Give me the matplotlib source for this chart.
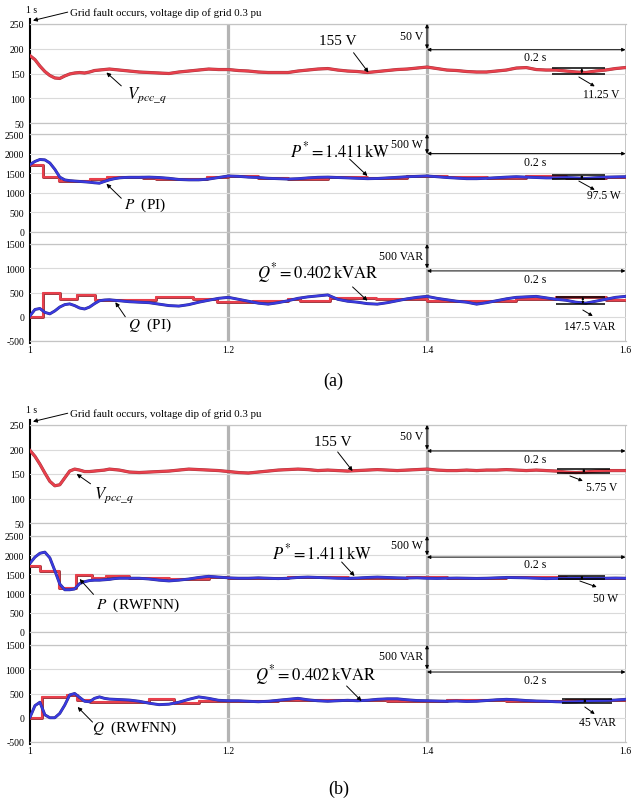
import numpy as np
import matplotlib
matplotlib.use('Agg')
import matplotlib.pyplot as plt
import matplotlib.patheffects as pe

plt.rcParams['font.family'] = ['Liberation Serif', 'DejaVu Serif']
plt.rcParams['mathtext.fontset'] = 'stix'
plt.rcParams['axes.unicode_minus'] = False

# ---------------- data ----------------
t_fine = np.round(1.0 + 0.005 * np.arange(21), 3)       # 1.000 ... 1.100
t_coarse = np.round(1.10 + 0.01 * np.arange(1, 51), 2)  # 1.11 ... 1.60
t = np.concatenate([t_fine, t_coarse])

# (a) PI controller
v_a = [186, 178, 165, 154, 146, 141, 140, 145, 149, 151, 152, 151, 153, 156, 157, 158, 159, 158, 157, 156, 155,
       153, 152, 151, 150, 153, 155, 157, 159, 158, 158, 156, 155, 153, 152, 152, 152, 155, 157, 159, 160,
       157, 155, 154, 152, 154, 156, 158, 159, 161, 163, 160, 157, 156, 154, 153, 153, 155, 157, 161, 162,
       158, 157, 157, 155, 153, 152, 155, 157, 160, 162]
p_a = [1720, 1800, 1850, 1840, 1760, 1600, 1400, 1330, 1310, 1300, 1290, 1280, 1270, 1255, 1245, 1290, 1330, 1360, 1380, 1390, 1395,
       1395, 1400, 1390, 1370, 1340, 1330, 1330, 1350, 1390, 1430, 1420, 1400, 1390, 1370, 1360, 1350, 1360, 1380, 1395, 1400,
       1390, 1380, 1370, 1360, 1365, 1380, 1395, 1410, 1420, 1430, 1410, 1390, 1375, 1360, 1360, 1370, 1385, 1400, 1410, 1400,
       1390, 1380, 1380, 1390, 1380, 1370, 1385, 1400, 1405, 1410]
p_ref_a_t = [1.000, 1.013, 1.029, 1.060, 1.078, 1.114, 1.127, 1.178, 1.200, 1.230, 1.260, 1.300, 1.340, 1.380, 1.420, 1.460, 1.500, 1.540, 1.580, 1.600]
p_ref_a = [1700, 1405, 1310, 1350, 1410, 1390, 1340, 1400, 1430, 1390, 1355, 1400, 1370, 1420, 1400, 1370, 1420, 1380, 1400, 1400]
q_a = [20, 150, 170, 90, 60, 120, 200, 250, 265, 230, 180, 160, 200, 270, 330, 345, 350, 340, 330, 320, 310,
       300, 290, 260, 230, 220, 250, 300, 340, 380, 400, 360, 320, 280, 260, 290, 330, 380, 410, 430, 450,
       360, 320, 300, 270, 260, 290, 330, 370, 400, 420, 380, 350, 320, 300, 260, 290, 330, 370, 400, 410,
       420, 390, 360, 340, 300, 280, 320, 360, 400, 420]
q_ref_a_t = [1.000, 1.013, 1.030, 1.047, 1.065, 1.127, 1.164, 1.188, 1.225, 1.260, 1.272, 1.302, 1.349, 1.400, 1.440, 1.490, 1.530, 1.580, 1.600]
q_ref_a = [0, 485, 370, 450, 355, 415, 365, 300, 330, 365, 330, 385, 365, 315, 335, 365, 400, 350, 350]

# (b) RWFNN controller
v_b = [198, 186, 170, 152, 135, 126, 128, 142, 156, 160, 158, 155, 155, 156, 157, 158, 160, 159, 158, 156, 154,
       153, 154, 155, 156, 158, 160, 159, 158, 157, 155, 153, 152, 154, 156, 158, 159, 160, 159, 157, 158,
       157, 156, 157, 158, 159, 158, 157, 158, 159, 160, 158, 157, 157, 158, 157, 158, 158, 159, 158, 157,
       158, 157, 156, 154, 153, 154, 156, 157, 157, 157]
p_b = [1790, 1950, 2050, 2080, 1930, 1600, 1250, 1100, 1100, 1120, 1260, 1310, 1340, 1350, 1350, 1360, 1370, 1390, 1400, 1400, 1400,
       1400, 1380, 1350, 1330, 1350, 1380, 1420, 1450, 1430, 1410, 1400, 1400, 1410, 1400, 1390, 1400, 1420, 1430, 1420, 1410,
       1400, 1395, 1405, 1420, 1430, 1420, 1410, 1405, 1410, 1400, 1395, 1400, 1405, 1400, 1395, 1400, 1410, 1420, 1415, 1410,
       1400, 1390, 1395, 1400, 1405, 1400, 1395, 1400, 1405, 1400]
p_ref_b_t = [1.000, 1.010, 1.029, 1.046, 1.062, 1.077, 1.100, 1.140, 1.180, 1.200, 1.260, 1.320, 1.380, 1.420, 1.480, 1.540, 1.600]
p_ref_b = [1725, 1580, 1140, 1480, 1405, 1450, 1400, 1390, 1440, 1410, 1420, 1400, 1420, 1400, 1420, 1400, 1400]
q_b = [10, 250, 320, 60, 0, 0, 90, 260, 470, 500, 420, 340, 330, 400, 430, 400, 385, 380, 375, 370, 365,
       340, 300, 270, 280, 320, 380, 430, 400, 360, 350, 350, 340, 330, 340, 360, 380, 400, 370, 350, 340,
       350, 360, 350, 360, 380, 390, 390, 370, 355, 350, 345, 340, 345, 335, 340, 355, 370, 380, 370, 355,
       345, 340, 330, 325, 330, 345, 350, 355, 365, 380]
q_ref_b_t = [1.000, 1.012, 1.037, 1.047, 1.060, 1.120, 1.145, 1.170, 1.250, 1.300, 1.360, 1.420, 1.480, 1.540, 1.600]
q_ref_b = [0, 435, 470, 360, 335, 390, 305, 350, 360, 370, 355, 370, 350, 365, 365]

# ripple bands (upper, lower) marked at the right of each panel
band_a = [(161.25, 150.0), (1450, 1352.5), (410, 262.5)]
band_b = [(160.5, 153.0), (1450, 1372), (382, 312)]
band_labels_a = ['11.25 V', '97.5 W', '147.5 VAR']
band_labels_b = ['5.75 V', '50 W', '45 VAR']

v_ticks = [50, 100, 150, 200, 250]
p_ticks = [0, 500, 1000, 1500, 2000, 2500]
q_ticks = [-500, 0, 500, 1000, 1500]
x_ticks = [1.0, 1.2, 1.4, 1.6]
x_ticklabels = ['1', '1.2', '1.4', '1.6']

# ---------------- figure ----------------
W, H = 631, 804
fig = plt.figure(figsize=(W / 100, H / 100), dpi=100)
X0, X1 = 30, 625.5

RED, RED_D = '#e8404c', '#a0343c'
BLUE, BLUE_D = '#3a3ae0', '#2a2a8a'
GRID = '#dadada'
VGRID = '#b4b4b4'


def px_axes(top, bottom):
    return fig.add_axes([X0 / W, 1 - bottom / H, (X1 - X0) / W, (bottom - top) / H])


def curve(ax, x, y, color, dark, steps=False, lw=1.5):
    ax.plot(x, y, color=color, lw=lw, drawstyle='steps-post' if steps else 'default',
            path_effects=[pe.Stroke(linewidth=lw + 0.6, foreground=dark), pe.Normal()], zorder=3)


def arrow(ax, tail, head, style='-|>', lw=0.7, ms=6):
    ax.annotate('', xy=head, xytext=tail,
                arrowprops=dict(arrowstyle=style, color='black', lw=lw, mutation_scale=ms,
                                shrinkA=0, shrinkB=0),
                annotation_clip=False)


def setup_panel(ax, ylim, ticks, bottom_labels=False):
    ax.set_facecolor('none')
    ax.set_xlim(1.0, 1.6)
    ax.set_ylim(*ylim)
    ax.set_yticks(ticks)
    ax.set_yticklabels([str(v) for v in ticks])
    ax.tick_params(axis='y', length=0, pad=4, labelsize=7)
    for s in ['left', 'right']:
        ax.spines[s].set_visible(False)
    for s in ['top', 'bottom']:
        ax.spines[s].set_color('#c4c4c4')
        ax.spines[s].set_linewidth(0.9)
    ax.yaxis.grid(True, color=GRID, lw=0.8)
    ax.xaxis.grid(False)
    ax.set_xticks(x_ticks)
    if bottom_labels:
        ax.set_xticklabels(x_ticklabels)
        ax.tick_params(axis='x', length=0, pad=3, labelsize=7)
    else:
        ax.set_xticklabels([])
        ax.tick_params(axis='x', length=0)


def background(top, bottom):
    bg = px_axes(top, bottom)
    bg.set_xlim(1.0, 1.6)
    bg.set_ylim(0, 1)
    bg.axis('off')
    for xv in [1.2, 1.4]:
        bg.axvline(xv, color=VGRID, lw=2.3, zorder=0)
    bg.axvline(1.6, color=VGRID, lw=1.8, zorder=0)
    h = bottom - top
    bg.axvline(1.0, ymin=-2 / h, ymax=1 + 5 / h, color='black', lw=1.5, clip_on=False, zorder=5)
    return bg


def group(tops, v, p, p_ref_t, p_ref, q, q_ref_t, q_ref, bands, band_labels, tag, cfg):
    background(tops[0][0], tops[2][1])
    ax1 = px_axes(*tops[0]); ax2 = px_axes(*tops[1]); ax3 = px_axes(*tops[2])
    setup_panel(ax1, (50, 250), v_ticks)
    setup_panel(ax2, (0, 2500), p_ticks)
    setup_panel(ax3, (-500, 1500), q_ticks, bottom_labels=True)

    curve(ax1, t, v, RED, RED_D, lw=1.7)
    curve(ax2, p_ref_t, p_ref, RED, RED_D, steps=True)
    curve(ax2, t, p, BLUE, BLUE_D)
    curve(ax3, q_ref_t, q_ref, RED, RED_D, steps=True)
    curve(ax3, t, q, BLUE, BLUE_D)

    # fault note
    ax1.text(1.002, cfg['one_s_y'], '1 s', fontsize=7, ha='center', va='center')
    ax1.text(1.040, cfg['fault_y'], 'Grid fault occurs, voltage dip of grid 0.3 pu', fontsize=7.8,
             ha='left', va='center', clip_on=False)
    arrow(ax1, (1.038, cfg['fault_y']), (1.003, 257))

    # scale arrows and 0.2 s
    for ax, (ytop, ybot, yh, ytxt, lbl, ylbl) in zip([ax1, ax2, ax3], cfg['scale']):
        arrow(ax, (1.4, ybot), (1.4, ytop), style='<|-|>', ms=5)
        arrow(ax, (1.4, yh), (1.6, yh), style='<|-|>', ms=5)
        ax.text(1.509, ytxt, '0.2 s', fontsize=8.5, ha='center', va='center')
        ax.text(1.396, ylbl, lbl, fontsize=8.5, ha='right', va='center')

    # ripple bands
    for ax, (hi, lo), lbl, bc in zip([ax1, ax2, ax3], bands, band_labels, cfg['band']):
        x0, x1, xm, tail, head, txt = bc
        ax.hlines([hi, lo], x0, x1, color='black', lw=1.1, zorder=4)
        arrow(ax, (xm, lo), (xm, hi), style='<|-|>', lw=0.6, ms=3)
        arrow(ax, tail, head, ms=5)
        ax.text(txt[0], txt[1], lbl, fontsize=8.3, ha='center', va='center')

    # value labels
    for ax, (txt, pos, tail, head, size) in zip([ax1, ax2, ax3], cfg['val']):
        ax.text(pos[0], pos[1], txt, fontsize=size, ha='center', va='center')
        arrow(ax, tail, head, ms=6)
    for ax, (txt, pos, tail, head, size) in zip([ax1, ax2, ax3], cfg['name']):
        ax.text(pos[0], pos[1], txt, fontsize=size, ha='center', va='center')
        arrow(ax, tail, head, ms=6)

    fig.text(cfg['tag'][0] / W, 1 - cfg['tag'][1] / H, tag, fontsize=13, ha='center', va='center')


cfg_a = dict(
    one_s_y=279, fault_y=274,
    scale=[(250, 200, 198, 183, '50 V', 226),
           (2500, 2000, 2000, 1790, '500 W', 2250),
           (1500, 1000, 945, 778, '500 VAR', 1255)],
    band=[(1.526, 1.579, 1.556, (1.553, 143), (1.569, 124), (1.576, 109)),
          (1.526, 1.579, 1.556, (1.553, 1300), (1.569, 1075), (1.578, 944)),
          (1.530, 1.579, 1.557, (1.557, 139), (1.567, 15), (1.564, -191))],
    val=[('155 V', (1.310, 216), (1.326, 192), (1.341, 152), 11),
         (r'$P^{*}=1.411\,\mathrm{kW}$', (1.312, 2075), (1.322, 1860), (1.340, 1430), 12),
         (r'$Q^{*}=0.402\,\mathrm{kVAR}$', (1.290, 925), (1.325, 615), (1.340, 330), 12)],
    name=[(r'$V_{pcc\_q}$', (1.118, 108), (1.092, 125), (1.077, 152), 12),
          (r'$P$  (PI)', (1.116, 714), (1.092, 860), (1.077, 1230), 11),
          (r'$Q$  (PI)', (1.121, -149), (1.096, 0), (1.086, 300), 11)],
    tag=(333, 381),
)

cfg_b = dict(
    one_s_y=282, fault_y=274,
    scale=[(250, 200, 197, 181, '50 V', 228),
           (2500, 2000, 1950, 1771, '500 W', 2266),
           (1500, 1000, 943, 778, '500 VAR', 1273)],
    band=[(1.531, 1.584, 1.558, (1.544, 146), (1.557, 136), (1.576, 123)),
          (1.532, 1.579, 1.556, (1.554, 1328), (1.571, 1172), (1.580, 885)),
          (1.536, 1.586, 1.559, (1.559, 222), (1.569, 77), (1.572, -88))],
    val=[('155 V', (1.305, 217), (1.310, 195), (1.325, 156), 11),
         (r'$P^{*}=1.411\,\mathrm{kW}$', (1.294, 2083), (1.314, 1823), (1.327, 1458), 12),
         (r'$Q^{*}=0.402\,\mathrm{kVAR}$', (1.288, 902), (1.319, 655), (1.334, 345), 12)],
    name=[(r'$V_{pcc\_q}$', (1.085, 108), (1.061, 130), (1.047, 150), 12),
          (r'$P$  (RWFNN)', (1.109, 729), (1.064, 980), (1.050, 1380), 11),
          (r'$Q$  (RWFNN)', (1.105, -191), (1.063, -90), (1.048, 222), 11)],
    tag=(339, 789),
)

group([(25, 124), (135, 233), (245, 342)], v_a, p_a, p_ref_a_t, p_ref_a, q_a, q_ref_a_t, q_ref_a,
      band_a, band_labels_a, '(a)', cfg_a)
group([(426, 524), (537, 633), (646, 743)], v_b, p_b, p_ref_b_t, p_ref_b, q_b, q_ref_b_t, q_ref_b,
      band_b, band_labels_b, '(b)', cfg_b)

fig.savefig('out.png', dpi=100)
